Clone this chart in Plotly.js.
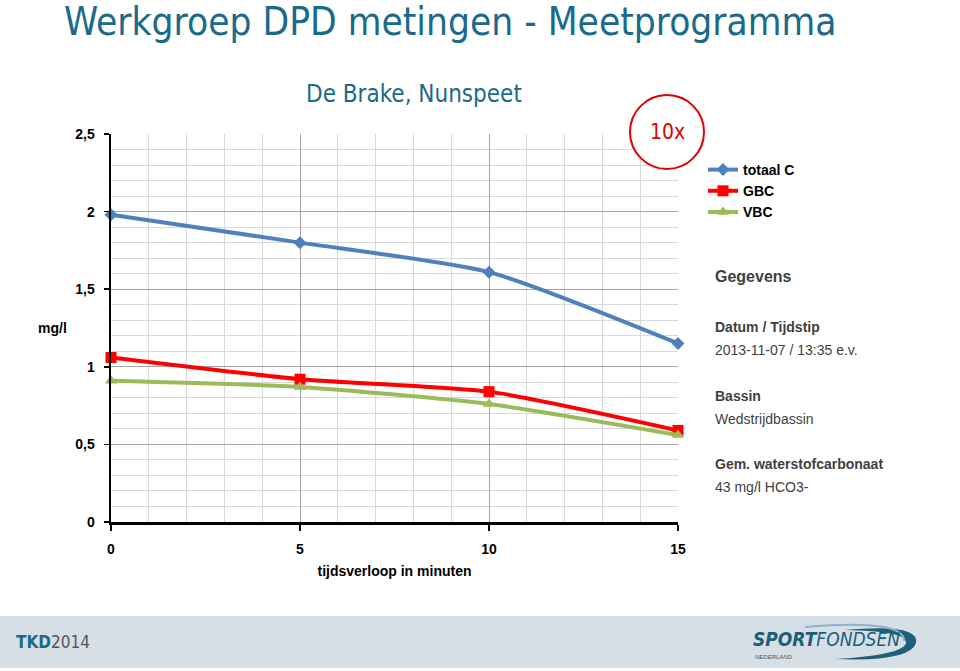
<!DOCTYPE html>
<html>
<head>
<meta charset="utf-8">
<script src="https://cdn.plot.ly/plotly-3.0.1.min.js"></script>
<style>html,body{margin:0;padding:0;background:#fff;}#chart{width:960px;height:671px;}</style>
</head>
<body>
<div id="chart"></div>
<script>
// ---- data ----
const minutes = [0, 5, 10, 15];
const totaalC = [1.98, 1.80, 1.61, 1.15];
const gbc = [1.06, 0.92, 0.84, 0.59];
const vbc = [0.91, 0.87, 0.76, 0.56];
const seriesNames = ["totaal C", "GBC", "VBC"];
const yTickVals = [0, 0.5, 1, 1.5, 2, 2.5];
const yTickText = ["0", "0,5", "1", "1,5", "2", "2,5"];
const xTickVals = [0, 5, 10, 15];
const infoLines = [
  ["Gegevens", true, 16],
  ["Datum / Tijdstip", true, 14],
  ["2013-11-07 / 13:35 e.v.", false, 14],
  ["Bassin", true, 14],
  ["Wedstrijdbassin", false, 14],
  ["Gem. waterstofcarbonaat", true, 14],
  ["43 mg/l HCO3-", false, 14]
];
const infoY = [276, 327, 350, 396, 419, 464, 487];

// ---- layout helpers (pixel -> paper) ----
const L = 111, R = 678, T = 134, B = 522;
const X = px => (px - L) / (R - L);
const Y = py => (B - py) / (B - T);

const FONT = "Liberation Sans, Arial, sans-serif";
const NARROW = "DejaVu Sans Condensed, Liberation Sans Narrow, Arial Narrow, sans-serif";
const TEAL = "#1b6a8a";

const traces = [
  {x: minutes, y: totaalC, name: seriesNames[0], mode: "lines+markers",
   line: {color: "#4f81bd", width: 4, shape: "spline", smoothing: 0.6},
   marker: {symbol: "diamond", size: 10, color: "#4f81bd"}, cliponaxis: false},
  {x: minutes, y: gbc, name: seriesNames[1], mode: "lines+markers",
   line: {color: "#ff0000", width: 4, shape: "spline", smoothing: 0.6},
   marker: {symbol: "square", size: 11, color: "#ff0000"}, cliponaxis: false},
  {x: minutes, y: vbc, name: seriesNames[2], mode: "lines+markers",
   line: {color: "#9bbb59", width: 4, shape: "spline", smoothing: 0.6},
   marker: {symbol: "triangle-up", size: 11, color: "#9bbb59"}, cliponaxis: false}
];

const annotations = [
  {text: "De Brake, Nunspeet", xref: "paper", yref: "paper", x: X(414), y: Y(94),
   xanchor: "center", yanchor: "middle", showarrow: false,
   font: {family: NARROW, size: 24, color: TEAL}},
  {text: "10x", xref: "paper", yref: "paper", x: X(667), y: Y(132),
   xanchor: "center", yanchor: "middle", showarrow: false,
   font: {family: NARROW, size: 21, color: "#e00000"}},
  {text: "<b>mg/l</b>", xref: "paper", yref: "paper", x: X(52), y: Y(328),
   xanchor: "center", yanchor: "middle", showarrow: false,
   font: {family: FONT, size: 14, color: "#000"}},
  {text: "<b><span style='color:#1b6a8a'>TKD</span></b>2014", xref: "paper", yref: "paper",
   x: X(14), y: Y(642), xanchor: "left", yanchor: "middle", showarrow: false,
   font: {family: NARROW, size: 17, color: "#555"}},
  {text: "<b><i>SPORT</i></b><i>FONDSEN</i>", xref: "paper", yref: "paper",
   x: X(751), y: Y(639), xanchor: "left", yanchor: "middle", showarrow: false,
   font: {family: NARROW, size: 19, color: "#1d5f78"}},
  {text: "<i>NEDERLAND</i>", xref: "paper", yref: "paper",
   x: X(753), y: Y(657), xanchor: "left", yanchor: "middle", showarrow: false,
   font: {family: FONT, size: 6, color: "#555"}}
];
infoLines.forEach((ln, i) => {
  annotations.push({
    text: ln[1] ? "<b>" + ln[0] + "</b>" : ln[0],
    xref: "paper", yref: "paper", x: X(713), y: Y(infoY[i]),
    xanchor: "left", yanchor: "middle", showarrow: false,
    font: {family: FONT, size: ln[2], color: "#3f3f3f"}
  });
});

const shapes = [
  {type: "rect", xref: "paper", yref: "paper", x0: X(0), x1: X(960), y0: Y(668), y1: Y(616),
   fillcolor: "#d6dee6", line: {width: 0}, layer: "below"},
  {type: "circle", xref: "paper", yref: "paper", x0: X(630), x1: X(704), y0: Y(169), y1: Y(95),
   fillcolor: "#ffffff", line: {color: "#e00000", width: 2}, layer: "above"},
  {type: "path", xref: "paper", yref: "paper",
   path: `M ${X(845)},${Y(630)} Q ${X(920)},${Y(623)} ${X(916)},${Y(643)} Q ${X(910)},${Y(662)} ${X(835)},${Y(659)} Q ${X(903)},${Y(655)} ${X(906)},${Y(643)} Q ${X(907)},${Y(631)} ${X(845)},${Y(630)} Z`,
   fillcolor: "#1d5f78", line: {width: 0}, layer: "above"},
  {type: "path", xref: "paper", yref: "paper",
   path: `M ${X(805)},${Y(627)} Q ${X(905)},${Y(619)} ${X(904)},${Y(641)}`,
   line: {color: "#8fb3c4", width: 2}, layer: "above"}
];

const layout = {
  width: 960, height: 671,
  margin: {l: L, r: 960 - R, t: T, b: 671 - B, pad: 0},
  paper_bgcolor: "#ffffff", plot_bgcolor: "#ffffff",
  separators: ",.",
  title: {text: "Werkgroep DPD metingen - Meetprogramma", x: 64 / 960, xref: "container",
          xanchor: "left", y: 1 - 22 / 671, yanchor: "middle", yref: "container",
          font: {family: NARROW, size: 38.5, color: TEAL}},
  showlegend: true,
  legend: {x: X(703), y: Y(154), xanchor: "left", yanchor: "top",
           font: {family: FONT, size: 14, color: "#000", weight: "bold"},
           bgcolor: "rgba(0,0,0,0)", tracegroupgap: 0, itemwidth: 30},
  xaxis: {range: [0, 15], tickvals: xTickVals, showline: true, linecolor: "#000", linewidth: 2.5,
          ticks: "outside", ticklen: 6, tickwidth: 1.5, tickcolor: "#000",
          showgrid: true, gridcolor: "#a6a6a6", gridwidth: 1, zeroline: false,
          minor: {dtick: 1, showgrid: true, gridcolor: "#d9d9d9", gridwidth: 1},
          tickfont: {family: FONT, size: 14, color: "#000", weight: "bold"}, ticklabelstandoff: 7,
          title: {text: "tijdsverloop in minuten", standoff: 10,
                  font: {family: FONT, size: 14, color: "#000", weight: "bold"}},
          automargin: false, fixedrange: true},
  yaxis: {range: [0, 2.5], tickvals: yTickVals, ticktext: yTickText, showline: true, linecolor: "#000", linewidth: 2.5,
          ticks: "outside", ticklen: 5, tickwidth: 1.5, tickcolor: "#000",
          showgrid: true, gridcolor: "#a6a6a6", gridwidth: 1, zeroline: false,
          minor: {dtick: 0.1, showgrid: true, gridcolor: "#d9d9d9", gridwidth: 1},
          tickfont: {family: FONT, size: 14, color: "#000", weight: "bold"}, ticklabelstandoff: 6,
          automargin: false, fixedrange: true},
  annotations: annotations,
  shapes: shapes
};

Plotly.newPlot("chart", traces, layout, {displayModeBar: false, staticPlot: true});
</script>
</body>
</html>
